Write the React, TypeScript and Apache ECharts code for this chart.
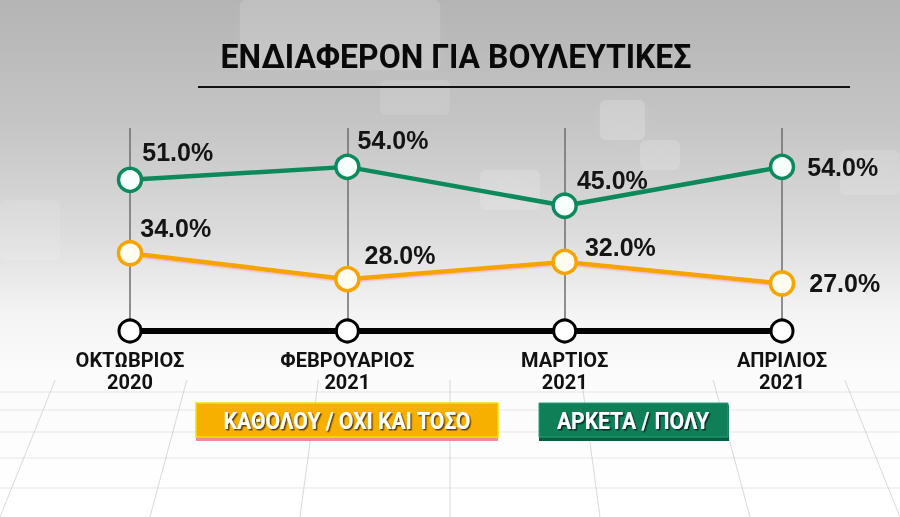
import React, { useEffect, useRef } from "react";
import * as echarts from "echarts";

const categories = ["ΟΚΤΩΒΡΙΟΣ\n2020", "ΦΕΒΡΟΥΑΡΙΟΣ\n2021", "ΜΑΡΤΙΟΣ\n2021", "ΑΠΡΙΛΙΟΣ\n2021"];
const seriesHigh = [51, 54, 45, 54]; // ΑΡΚΕΤΑ / ΠΟΛΥ
const seriesLow = [34, 28, 32, 27]; // ΚΑΘΟΛΟΥ / ΟΧΙ ΚΑΙ ΤΟΣΟ
const legendLow = "ΚΑΘΟΛΟΥ / ΟΧΙ ΚΑΙ ΤΟΣΟ";
const legendHigh = "ΑΡΚΕΤΑ / ΠΟΛΥ";
const title = "ΕΝΔΙΑΦΕΡΟΝ ΓΙΑ ΒΟΥΛΕΥΤΙΚΕΣ";

const Y_MIN = 16;
const Y_MAX = 63;

const GREEN = "#0c8a5c";
const ORANGE = "#f5a400";

// label offsets (style only)
const highOffsets = [[-1, -28], [-3, -27], [-1, -26], [12, 0]];
const lowOffsets = [[-3, -25], [4, -24], [7, -15], [14, 0]];

export default function App() {
  const ref = useRef<HTMLDivElement>(null);
  useEffect(() => {
    if (!ref.current) return;
    const chart = echarts.init(ref.current, null, { renderer: "svg" });

    const labelBase = {
      show: true,
      position: "right",
      distance: 0,
      fontSize: 25,
      fontWeight: "bold",
      fontFamily: "'Liberation Sans', Arial, sans-serif",
      color: "#141414",
      formatter: (p: any) => Number(p.value).toFixed(1) + "%",
    };

    const bgLines: any[] = [];
    const vpX = 450, vpY = -600;
    for (let i = -8; i <= 8; i++) {
      const xb = 450 + i * 150;
      const t = (380 - vpY) / (517 - vpY);
      const xt = vpX + (xb - vpX) * t;
      bgLines.push({
        type: "line",
        shape: { x1: xt, y1: 380, x2: xb, y2: 517 },
        style: { stroke: "rgba(150,150,150,0.35)", lineWidth: 1 },
        silent: true,
      });
    }
    [392, 410, 432, 458, 488].forEach((y) => {
      bgLines.push({
        type: "line",
        shape: { x1: 0, y1: y, x2: 900, y2: y },
        style: { stroke: "rgba(170,170,170,0.25)", lineWidth: 1 },
        silent: true,
      });
    });

    const patches = [
      [240, 0, 200, 70, 0.14],
      [600, 100, 45, 40, 0.18],
      [480, 170, 60, 40, 0.15],
      [640, 140, 40, 30, 0.15],
      [840, 150, 60, 45, 0.12],
      [380, 80, 70, 35, 0.1],
      [0, 200, 60, 60, 0.1],
    ].map(([x, y, w, h, o]) => ({
      type: "rect",
      shape: { x, y, width: w, height: h, r: 6 },
      style: { fill: `rgba(255,255,255,${o})`, shadowBlur: 20, shadowColor: `rgba(255,255,255,${o})` },
      silent: true,
    }));

    chart.setOption({
      animation: false,
      backgroundColor: "transparent",
      grid: { left: 130, right: 118, top: 128, bottom: 186 },
      xAxis: {
        type: "category",
        data: categories,
        boundaryGap: false,
        axisLine: { show: false },
        axisTick: { show: false },
        splitLine: { show: true, lineStyle: { color: "#6e6e6e", width: 1.5 } },
        axisLabel: {
          margin: 18,
          fontSize: 20,
          lineHeight: 22,
          fontWeight: "bold",
          fontFamily: "Roboto, sans-serif",
          color: "#111",
        },
      },
      yAxis: { type: "value", min: Y_MIN, max: Y_MAX, show: false, splitLine: { show: false } },
      graphic: [
        {
          type: "rect",
          z: -10,
          shape: { x: 0, y: 0, width: 900, height: 517 },
          style: {
            fill: new echarts.graphic.LinearGradient(0, 0, 0, 1, [
              { offset: 0, color: "#b4b4b4" },
              { offset: 0.25, color: "#c6c6c6" },
              { offset: 0.45, color: "#dcdcdc" },
              { offset: 0.6, color: "#f3f3f3" },
              { offset: 0.72, color: "#fbfbfb" },
              { offset: 1, color: "#ffffff" },
            ]),
          },
          silent: true,
        },
        { type: "group", z: -9, children: [...patches, ...bgLines] },
        {
          type: "text",
          z: 10,
          x: 456,
          y: 56,
          scaleX: 0.94,
          style: {
            text: title,
            fill: "#0a0a0a",
            font: "bold 34px Roboto, sans-serif",
            textAlign: "center",
            textVerticalAlign: "middle",
          },
        },
        {
          type: "line",
          z: 10,
          shape: { x1: 198, y1: 87, x2: 850, y2: 87 },
          style: { stroke: "#111", lineWidth: 2 },
        },
        {
          type: "rect",
          z: 10,
          shape: { x: 196, y: 405, width: 302, height: 36 },
          style: { fill: "#f08a9a" },
        },
        {
          type: "rect",
          z: 11,
          shape: { x: 196, y: 403, width: 302, height: 34 },
          style: { fill: "#f7b000", stroke: "#f2e200", lineWidth: 1.5 },
        },
        {
          type: "text",
          z: 12,
          x: 347,
          y: 421,
          scaleX: 0.88,
          style: {
            text: legendLow,
            fill: "#ffffff",
            font: "bold 24px Roboto, sans-serif",
            textAlign: "center",
            textVerticalAlign: "middle",
            textShadowColor: "rgba(60,40,0,0.8)",
            textShadowOffsetX: 1.5,
            textShadowOffsetY: 1.5,
            textShadowBlur: 1,
          },
        },
        {
          type: "rect",
          z: 10,
          shape: { x: 539, y: 405, width: 190, height: 36 },
          style: { fill: "#0a5e40" },
        },
        {
          type: "rect",
          z: 11,
          shape: { x: 539, y: 403, width: 189, height: 34 },
          style: { fill: "#0f7f58", stroke: "#2aa07a", lineWidth: 1 },
        },
        {
          type: "text",
          z: 12,
          x: 633,
          y: 421,
          scaleX: 0.88,
          style: {
            text: legendHigh,
            fill: "#ffffff",
            font: "bold 24px Roboto, sans-serif",
            textAlign: "center",
            textVerticalAlign: "middle",
            textShadowColor: "rgba(0,30,20,0.8)",
            textShadowOffsetX: 1.5,
            textShadowOffsetY: 1.5,
            textShadowBlur: 1,
          },
        },
      ],
      series: [
        {
          name: "baseline",
          type: "line",
          silent: true,
          data: categories.map(() => Y_MIN),
          symbol: "circle",
          symbolSize: 22,
          lineStyle: { color: "#000", width: 6 },
          itemStyle: { color: "#fff", borderColor: "#000", borderWidth: 3 },
          label: { show: false },
          z: 3,
        },
        {
          name: legendLow,
          type: "line",
          data: seriesLow.map((v, i) => ({ value: v, label: { offset: lowOffsets[i] } })),
          symbol: "circle",
          symbolSize: 23,
          lineStyle: { color: ORANGE, width: 4.5, shadowColor: "rgba(255,110,160,0.35)", shadowOffsetY: 1.5, shadowBlur: 1 },
          itemStyle: { color: "#fffdf0", borderColor: ORANGE, borderWidth: 3.5 },
          label: labelBase,
          z: 4,
        },
        {
          name: legendHigh,
          type: "line",
          data: seriesHigh.map((v, i) => ({ value: v, label: { offset: highOffsets[i] } })),
          symbol: "circle",
          symbolSize: 23,
          lineStyle: { color: GREEN, width: 4.5 },
          itemStyle: { color: "#f6fffb", borderColor: GREEN, borderWidth: 3.5 },
          label: labelBase,
          z: 5,
        },
      ],
    });
    return () => chart.dispose();
  }, []);
  return (
    <div
      ref={ref}
      style={{ position: "fixed", left: 0, top: 0, width: 900, height: 517 }}
    />
  );
}
